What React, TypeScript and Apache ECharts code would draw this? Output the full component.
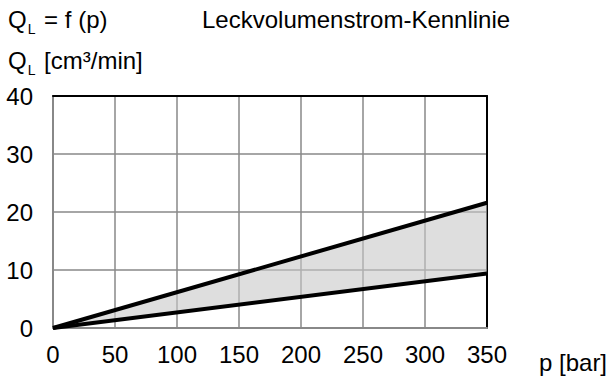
import React, { useEffect, useRef } from "react";
import * as echarts from "echarts";

const pressure = [0, 350];
const lowerLeak = [0, 9.4];
const upperLeak = [0, 21.6];
const xTicks = [0, 50, 100, 150, 200, 250, 300, 350];
const yTicks = [0, 10, 20, 30, 40];

const FONT = "'Liberation Sans', Arial, Helvetica, sans-serif";
const FS = 24;

export default function App() {
  const ref = useRef<HTMLDivElement>(null);
  useEffect(() => {
    if (!ref.current) return;
    const chart = echarts.init(ref.current, undefined, { renderer: "svg" });
    const lowerPts = pressure.map((p, i) => [p, lowerLeak[i]]);
    const upperPts = pressure.map((p, i) => [p, upperLeak[i]]);
    const bandRows = pressure.map((p, i) => [p, lowerLeak[i], upperLeak[i]]);
    const rich = {
      q: { fontFamily: FONT, fontSize: FS, fontWeight: "normal", color: "#000", lineHeight: 34 },
      s: { fontFamily: FONT, fontSize: 14, fontWeight: "normal", color: "#000", lineHeight: 14, verticalAlign: "bottom", padding: [0, 2, 0, 1] },
    };
    chart.setOption({
      animation: false,
      title: [
        { text: "{q|Q}{s|L}{q| = f (p)}", left: 8, top: 2, padding: 0, textStyle: { fontWeight: "normal", rich } },
        { text: "Leckvolumenstrom-Kennlinie", left: 202, top: 7, padding: 0, textStyle: { fontFamily: FONT, fontSize: FS, fontWeight: "normal", color: "#000" } },
        { text: "{q|Q}{s|L}{q| [cm³/min]}", left: 8, top: 43, padding: 0, textStyle: { fontWeight: "normal", rich } },
        { text: "p [bar]", left: 539, top: 350, padding: 0, textStyle: { fontFamily: FONT, fontSize: FS, fontWeight: "normal", color: "#000" } },
      ],
      grid: { left: 53, right: 122, top: 96, bottom: 52, containLabel: false },
      xAxis: [
        {
          type: "value", min: 0, max: 350, interval: 50,
          axisLine: { show: true, lineStyle: { color: "#888", width: 2 } },
          axisTick: { show: false },
          axisLabel: { fontFamily: FONT, fontSize: FS, color: "#000", margin: 14, formatter: (v: number) => (xTicks.includes(v) ? String(v) : "") },
          splitLine: { show: true, lineStyle: { color: "#888", width: 1.5 } },
        },
        {
          type: "value", position: "top", min: 0, max: 350, interval: 50,
          axisLine: { show: true, onZero: false, lineStyle: { color: "#000", width: 2 } },
          axisTick: { show: false }, axisLabel: { show: false }, splitLine: { show: false },
        },
      ],
      yAxis: [
        {
          type: "value", min: 0, max: 40, interval: 10,
          axisLine: { show: true, lineStyle: { color: "#888", width: 2 } },
          axisTick: { show: false },
          axisLabel: { fontFamily: FONT, fontSize: FS, color: "#000", margin: 20, formatter: (v: number) => (yTicks.includes(v) ? String(v) : "") },
          splitLine: { show: true, lineStyle: { color: "#888", width: 1.5 } },
        },
        {
          type: "value", position: "right", min: 0, max: 40, interval: 10,
          axisLine: { show: true, onZero: false, lineStyle: { color: "#000", width: 2 } },
          axisTick: { show: false }, axisLabel: { show: false }, splitLine: { show: false },
        },
      ],
      series: [
        {
          type: "custom",
          data: bandRows,
          silent: true,
          z: 1,
          renderItem: (params: any, api: any) => {
            if (params.dataIndex !== 0) return null;
            const top = bandRows.map((r) => api.coord([r[0], r[2]]));
            const bot = bandRows.map((r) => api.coord([r[0], r[1]])).reverse();
            return {
              type: "polygon",
              shape: { points: top.concat(bot) },
              style: { fill: "#c8c8c8", opacity: 0.6 },
            };
          },
        },
        { type: "line", data: upperPts, symbol: "none", lineStyle: { color: "#000", width: 4 }, z: 3 },
        { type: "line", data: lowerPts, symbol: "none", lineStyle: { color: "#000", width: 4 }, z: 3 },
      ],
    });
    return () => chart.dispose();
  }, []);
  return <div ref={ref} style={{ width: 609, height: 380, position: "absolute", left: 0, top: 0 }} />;
}
